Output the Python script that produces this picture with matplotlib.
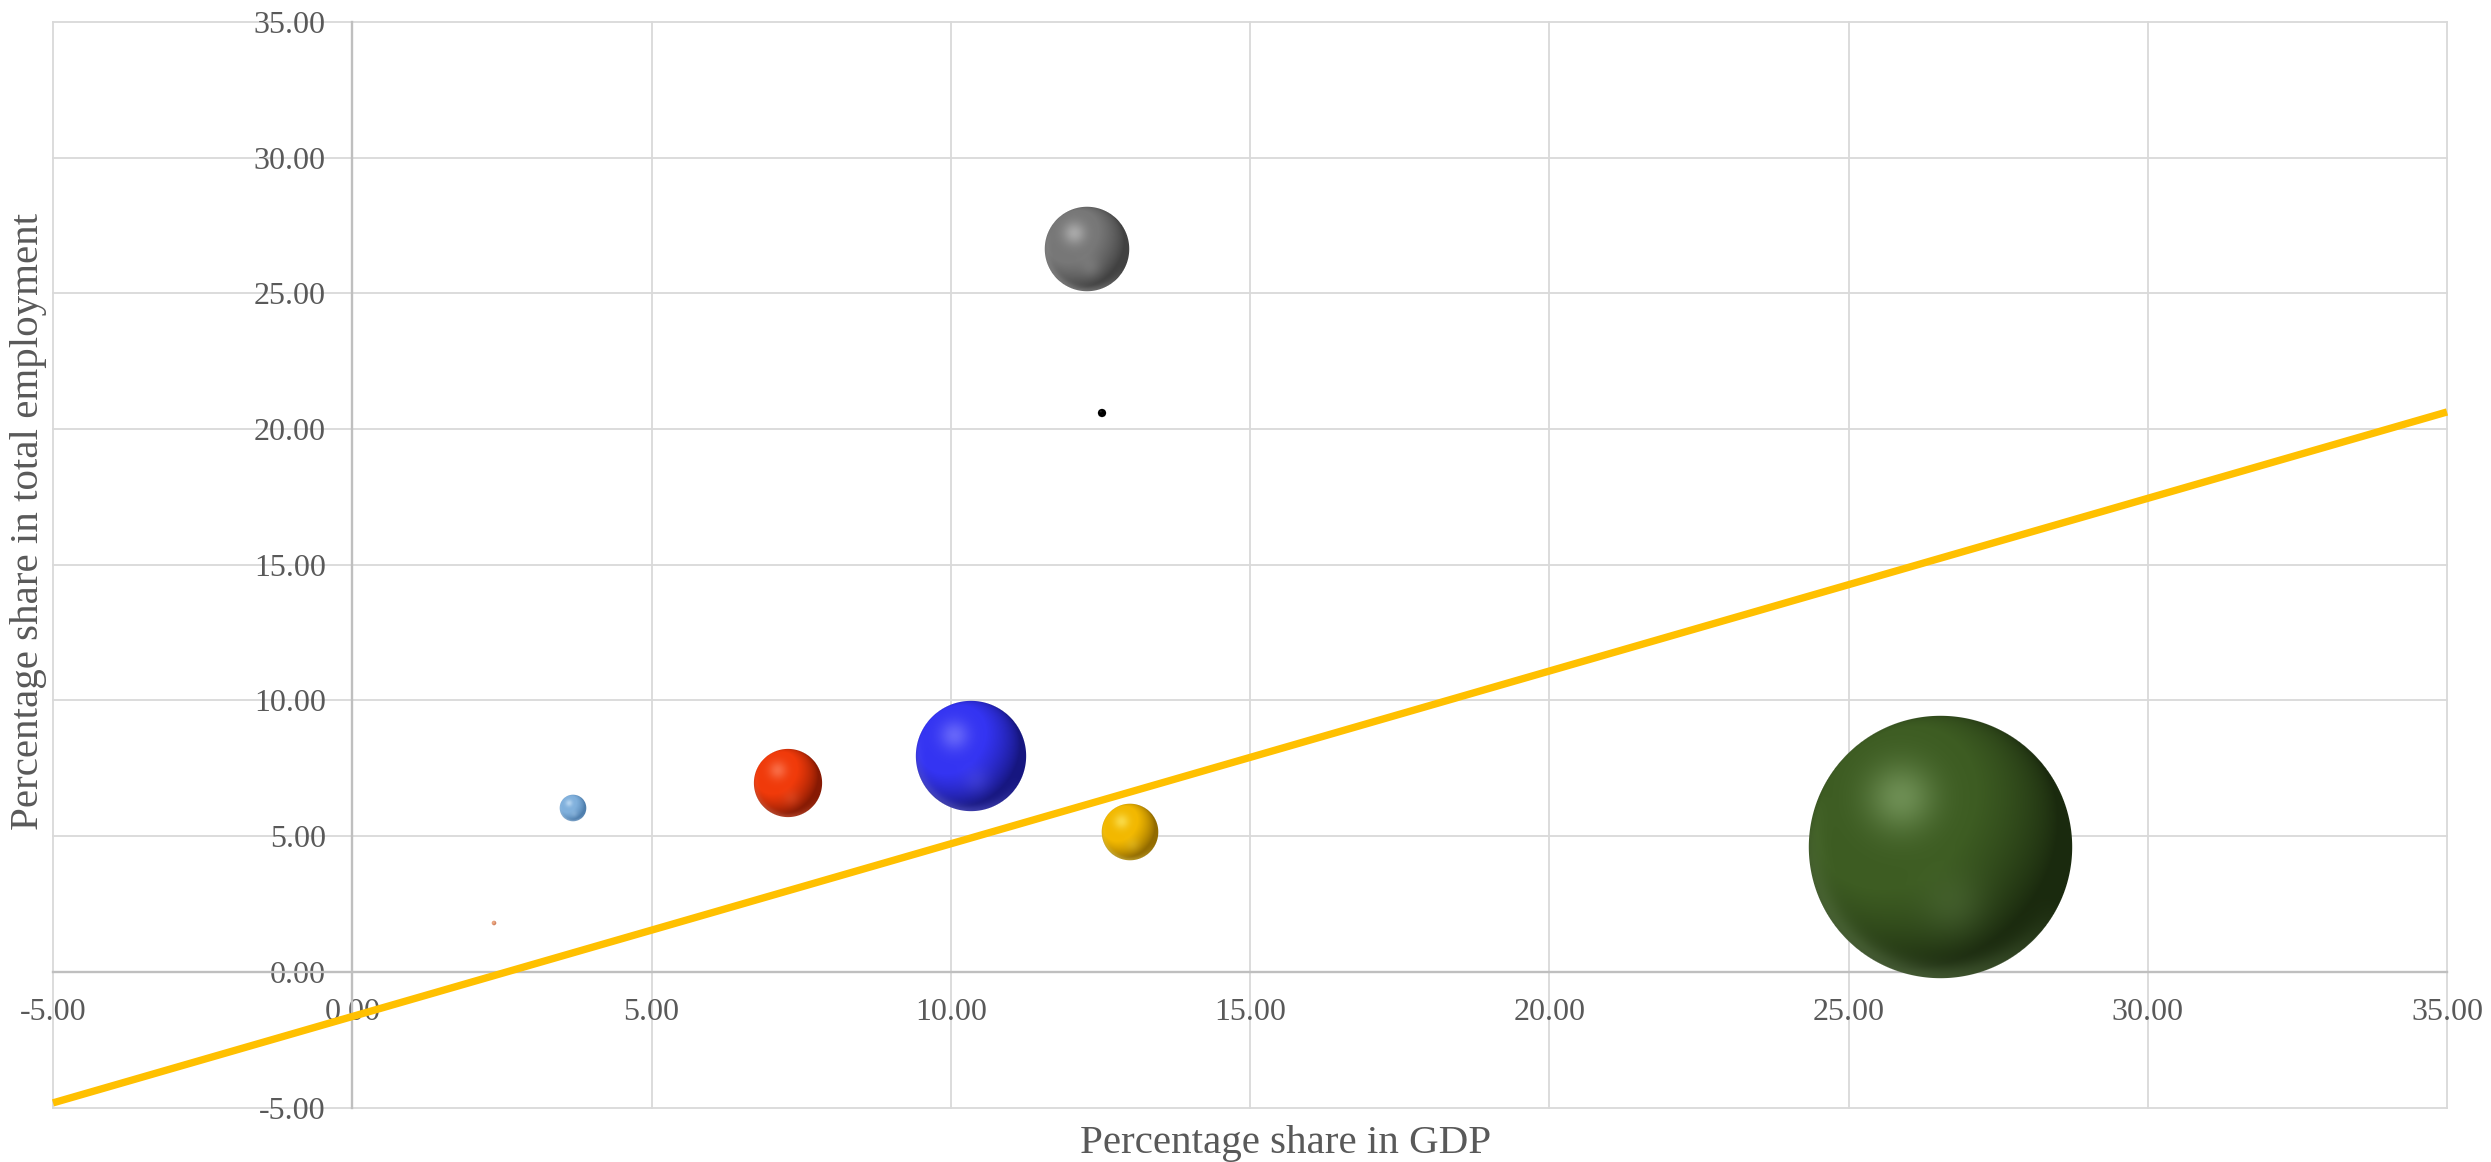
import numpy as np
import matplotlib.pyplot as plt
from matplotlib.colors import to_rgb
from matplotlib.offsetbox import OffsetImage, AnnotationBbox

plt.rcParams['font.family'] = ['Liberation Serif', 'DejaVu Serif']

# bubble data: x = share in GDP, y = share in employment, size = bubble value
gdp_share = [26.53, 10.34, 12.27, 7.28, 12.99, 3.68, 12.52, 2.37]
employment_share = [4.59, 7.97, 26.62, 6.95, 5.15, 6.04, 20.60, 1.80]
bubble_size = [100, 17.6, 10.3, 6.7, 4.6, 1.0, 0.09, 0.025]

# (base, highlight, shadow) for each bubble
bubble_colors = [
    ('#3d5c22', '#93b57a', '#0c1506'),  # green
    ('#3434f2', '#8c8cff', '#0a0a50'),  # blue
    ('#777777', '#cfcfcf', '#2a2a2a'),  # gray
    ('#f03a0a', '#ff9070', '#5a0c00'),  # red
    ('#f2b800', '#fff27a', '#6a4a00'),  # yellow
    ('#80b0dc', '#dcefff', '#3a6a9a'),  # light blue
    ('#000000', '#444444', '#000000'),  # black
    ('#e8a07a', '#f5c8a8', '#c07050'),  # orange
]

# linear trend line end points
trend_x = [-5, 35]
trend_y = [-4.83, 20.63]

x_ticks = [-5, 0, 5, 10, 15, 20, 25, 30, 35]
y_ticks = [-5, 0, 5, 10, 15, 20, 25, 30, 35]

text_color = '#595959'
max_radius = 131  # pixels of the biggest bubble


def sphere(radius, base, light, dark):
    """RGBA image of a shaded 3-D looking ball."""
    n = int(np.ceil(radius)) * 2 + 2
    c = (n - 1) / 2
    yy, xx = np.mgrid[0:n, 0:n]
    u = (xx - c) / radius
    v = (c - yy) / radius
    d = np.sqrt(u ** 2 + v ** 2)
    z = np.sqrt(np.clip(1 - d ** 2, 0, 1))
    light_dir = np.array([-0.45, 0.4, 0.8])
    light_dir = light_dir / np.linalg.norm(light_dir)
    diff = np.clip(u * light_dir[0] + v * light_dir[1] + z * light_dir[2], 0, 1)

    base, light, dark = np.array(to_rgb(base)), np.array(to_rgb(light)), np.array(to_rgb(dark))
    t = np.clip(0.3 + 0.95 * diff, 0, 1)[..., None]
    col = dark + (base - dark) * t
    # soft highlight upper left
    h = np.exp(-((u + 0.3) ** 2 + (v - 0.38) ** 2) / 0.07)[..., None] * 0.55
    col = col * (1 - h) + light * h
    # faint reflection lower middle
    h2 = np.exp(-((u - 0.1) ** 2 + (v + 0.45) ** 2) / 0.06)[..., None] * 0.15
    col = col * (1 - h2) + light * h2
    # light rim bottom left
    rim = (np.exp(-((d - 1.0) ** 2) / 0.012) * np.clip(-0.75 * v - 0.35 * u, 0, 1))[..., None] * 0.4
    col = col * (1 - rim) + light * rim

    alpha = np.clip(radius - d * radius + 0.7, 0, 1)
    return np.dstack([np.clip(col, 0, 1), alpha])


fig = plt.figure(figsize=(24.91, 11.62), dpi=100)
ax = fig.add_axes([0.02128, 0.0469, 0.96106, 0.93417])

ax.set_xlim(-5, 35)
ax.set_ylim(-5, 35)
ax.set_xticks(x_ticks)
ax.set_yticks(y_ticks)
ax.set_xticklabels([f'{v:.2f}' for v in x_ticks])
ax.set_yticklabels([f'{v:.2f}' for v in y_ticks])

ax.spines['left'].set_position(('data', 0))
ax.spines['bottom'].set_position(('data', 0))
ax.spines['top'].set_visible(False)
ax.spines['right'].set_visible(False)
for side in ['left', 'bottom']:
    ax.spines[side].set_color('#BFBFBF')
    ax.spines[side].set_linewidth(1.7)

ax.tick_params(length=0, labelsize=23, colors=text_color)
ax.tick_params(axis='x', pad=19)
ax.tick_params(axis='y', pad=19)
ax.grid(True, color='#D9D9D9', linewidth=1.3)
ax.set_axisbelow(True)
for gl in ax.get_xgridlines() + ax.get_ygridlines():
    gl.set_clip_on(False)

# bubbles
for x, y, s, (b, l, d) in zip(gdp_share, employment_share, bubble_size, bubble_colors):
    r = max_radius * np.sqrt(s / max(bubble_size))
    img = OffsetImage(sphere(r, b, l, d), zoom=1, dpi_cor=False)
    ab = AnnotationBbox(img, (x, y), frameon=False, pad=0, zorder=3)
    ax.add_artist(ab)

ax.plot(trend_x, trend_y, color='#FFC000', linewidth=5.3, solid_capstyle='butt', zorder=4, clip_on=False)

ax.set_xlabel('Percentage share in GDP', fontsize=29.5, color=text_color, va='center')
ax.xaxis.set_label_coords(0.515, -0.033)
ax.set_ylabel('Percentage share in total employment', fontsize=29.5, color=text_color, va='center')
ax.yaxis.set_label_coords(-0.0104, 0.54)

fig.savefig('out.png', dpi=100)
